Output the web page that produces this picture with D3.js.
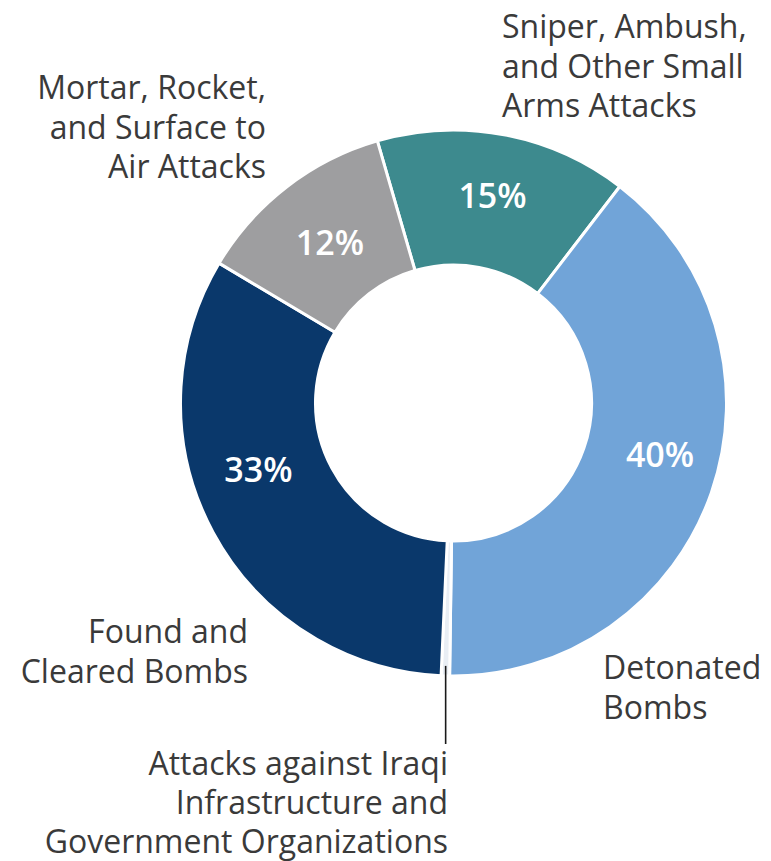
<!DOCTYPE html>
<html><head><meta charset="utf-8">
<script src="https://cdn.jsdelivr.net/npm/d3@7"></script>
<style>html,body{margin:0;background:#fff}svg{display:block}</style>
</head><body>
<svg id="chart" width="771" height="861"></svg>
<script>
// Share of attacks by type (percent)
const categories = [
  "Sniper, Ambush, and Other Small Arms Attacks",
  "Detonated Bombs",
  "Attacks against Iraqi Infrastructure and Government Organizations",
  "Found and Cleared Bombs",
  "Mortar, Rocket, and Surface to Air Attacks"
];
const shares = [15, 40, 0.5, 33, 12];
const valueLabels = ["15%", "40%", "", "33%", "12%"];
const labelLines = [
  ["Sniper, Ambush,", "and Other Small", "Arms Attacks"],
  ["Detonated", "Bombs"],
  ["Attacks against Iraqi", "Infrastructure and", "Government Organizations"],
  ["Found and", "Cleared Bombs"],
  ["Mortar, Rocket,", "and Surface to", "Air Attacks"]
];
const colors = ["#3d8a8e", "#71a4d8", "#e9eef4", "#0a386b", "#9e9ea0"];

// layout
const cx = 453.5, cy = 403, R = 273, r0 = 138;
const deg = Math.PI / 180;
const startAt = -16.2 * deg;
const catPos = [
  {x: 502, y: 38, anchor: "start", lh: 39.5},
  {x: 603, y: 679, anchor: "start", lh: 39.5},
  {x: 448, y: 775, anchor: "end", lh: 39},
  {x: 248, y: 643, anchor: "end", lh: 39.5},
  {x: 266, y: 99, anchor: "end", lh: 39.5}
];
const valueNudge = [0, -5, 0, 9.5, 0]; // degrees
const valueRadius = [211, 213, 0, 206, 202];

const data = categories.map((c, i) => ({name: c, value: shares[i], i}));
const pie = d3.pie().value(d => d.value).sort(null)
  .startAngle(startAt).endAngle(startAt + 2 * Math.PI);
const arcs = pie(data);
const arc = d3.arc().innerRadius(r0).outerRadius(R);

const svg = d3.select("#chart");
const g = svg.append("g").attr("transform", `translate(${cx},${cy})`);

g.selectAll("path.slice").data(arcs).join("path")
  .attr("class", "slice")
  .attr("d", arc)
  .attr("fill", d => colors[d.data.i])
  .attr("stroke", "#fff")
  .attr("stroke-width", 3)
  .attr("stroke-linejoin", "round");

// percentage labels inside the ring
g.selectAll("text.val").data(arcs.filter(d => valueLabels[d.data.i]))
  .join("text")
  .attr("class", "val")
  .attr("transform", d => {
    const a = (d.startAngle + d.endAngle) / 2 + valueNudge[d.data.i] * deg;
    const rr = valueRadius[d.data.i];
    return `translate(${rr * Math.sin(a)},${-rr * Math.cos(a)})`;
  })
  .attr("text-anchor", "middle")
  .attr("dy", "0.36em")
  .attr("fill", "#fff")
  .style("font-family", "'Open Sans', 'Noto Sans', sans-serif")
  .style("font-weight", 600)
  .style("font-size", "34px")
  .text(d => valueLabels[d.data.i]);

// leader line for the thin slice
const thin = arcs[2];
const midA = (thin.startAngle + thin.endAngle) / 2;
const lx = cx + (R - 10) * Math.sin(midA);
svg.append("line")
  .attr("x1", lx).attr("y1", cy - (R - 10) * Math.cos(midA))
  .attr("x2", lx).attr("y2", catPos[2].y - 31)
  .attr("stroke", "#1a1a1a").attr("stroke-width", 1.6);

// category labels
const labels = svg.selectAll("text.cat").data(data).join("text")
  .attr("class", "cat")
  .attr("text-anchor", d => catPos[d.i].anchor)
  .attr("fill", "#3a3a3a")
  .style("font-family", "'Open Sans', 'Noto Sans', sans-serif")
  .style("font-size", "32px");
labels.selectAll("tspan").data(d => labelLines[d.i].map((t, k) => ({t, k, p: catPos[d.i]})))
  .join("tspan")
  .attr("x", d => d.p.x)
  .attr("y", d => d.p.y + d.k * d.p.lh)
  .text(d => d.t);
</script>
</body></html>
